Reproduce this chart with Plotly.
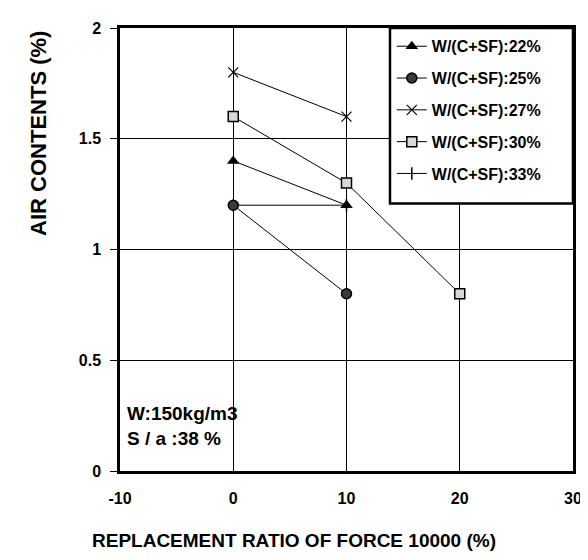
import plotly.graph_objects as go

FONT = "Liberation Sans, Arial, sans-serif"

# DATA
x_22 = [0, 10]
y_22 = [1.4, 1.2]

x_25 = [0, 10]
y_25 = [1.2, 0.8]

x_27 = [0, 10]
y_27 = [1.8, 1.6]

x_30 = [0, 10, 20]
y_30 = [1.6, 1.3, 0.8]

x_33 = [0, 10]
y_33 = [1.2, 1.2]

x_ticks = [-10, 0, 10, 20, 30]
x_labels = ["-10", "0", "10", "20", "30"]
y_ticks = [0, 0.5, 1, 1.5, 2]
y_labels = ["0", "0.5", "1", "1.5", "2"]

fig = go.Figure()

# 33% first so its thin marker sits under the others
fig.add_trace(
    go.Scatter(
        x=x_33, y=y_33, name="W/(C+SF):33%", mode="lines+markers",
        legendrank=5, legendgroup="g33",
        line=dict(color="black", width=1),
        marker=dict(symbol="line-ns-open", size=9, color="black",
                    line=dict(color="black", width=1.5))
    )
)

fig.add_trace(
    go.Scatter(
        x=x_22, y=y_22, name="W/(C+SF):22%", mode="lines+markers",
        legendrank=1, legendgroup="g22",
        line=dict(color="black", width=1),
        marker=dict(symbol="triangle-up", size=11, color="black")
    )
)

fig.add_trace(
    go.Scatter(
        x=x_25, y=y_25, name="W/(C+SF):25%", mode="lines+markers",
        legendrank=2, legendgroup="g25",
        line=dict(color="black", width=1),
        marker=dict(symbol="circle", size=10, color="#3a3a3a",
                    line=dict(color="black", width=1.5))
    )
)

fig.add_trace(
    go.Scatter(
        x=x_27, y=y_27, name="W/(C+SF):27%", mode="lines+markers",
        legendrank=3, legendgroup="g27",
        line=dict(color="black", width=1),
        marker=dict(symbol="x-thin-open", size=10, color="black",
                    line=dict(color="black", width=1.2))
    )
)

fig.add_trace(
    go.Scatter(
        x=x_30, y=y_30, name="W/(C+SF):30%", mode="lines+markers",
        legendrank=4, legendgroup="g30",
        line=dict(color="black", width=1),
        marker=dict(symbol="square", size=10, color="#d8d8d8",
                    line=dict(color="black", width=1.5))
    )
)

fig.update_xaxes(
    range=[-10, 30],
    tickvals=x_ticks,
    ticktext=x_labels,
    ticks="",
    showgrid=True,
    gridcolor="black",
    gridwidth=1,
    showline=True,
    linecolor="black",
    linewidth=2.5,
    mirror=True,
    zeroline=False,
    ticklabelstandoff=11,
    tickfont=dict(family=FONT, size=16, color="black", weight="bold")
)

fig.update_yaxes(
    range=[0, 2],
    tickvals=y_ticks,
    ticktext=y_labels,
    ticks="outside",
    ticklen=7,
    tickcolor="black",
    showgrid=True,
    gridcolor="black",
    gridwidth=1,
    showline=True,
    linecolor="black",
    linewidth=2.5,
    mirror=True,
    zeroline=False,
    ticklabelstandoff=6,
    tickfont=dict(family=FONT, size=16, color="black", weight="bold")
)

annotations = [
    dict(text="REPLACEMENT RATIO OF FORCE 10000 (%)", x=0.385, y=-0.156,
         font=dict(size=19)),
    dict(text="AIR CONTENTS (%)", x=-0.18, y=0.762, textangle=-90,
         font=dict(size=22)),
    dict(text="W:150kg/m3", x=0.011, y=0.129, xanchor="left",
         font=dict(size=19)),
    dict(text="S / a :38 %", x=0.011, y=0.0735, xanchor="left",
         font=dict(size=19)),
]
for a in annotations:
    a.setdefault("xanchor", "center")
    a["font"].update(family=FONT, color="black", weight="bold")
    fig.add_annotation(xref="paper", yref="paper", showarrow=False,
                       yanchor="middle", **a)

# legend frame
fig.add_shape(
    type="rect", xref="paper", yref="paper",
    x0=0.596, x1=1.0, y0=0.604, y1=1.0,
    line=dict(color="black", width=2.5),
    fillcolor="white", layer="above"
)

fig.update_layout(
    width=588,
    height=560,
    margin=dict(l=112, r=23, t=14, b=97),
    paper_bgcolor="white",
    plot_bgcolor="white",
    showlegend=True,
    legend=dict(
        x=0.6, y=0.997, xanchor="left", yanchor="top",
        bgcolor="rgba(0,0,0,0)",
        borderwidth=0,
        tracegroupgap=8,
        font=dict(family=FONT, size=16, color="black", weight="bold"),
        itemwidth=30,
    ),
)

fig.write_html("out.html")
